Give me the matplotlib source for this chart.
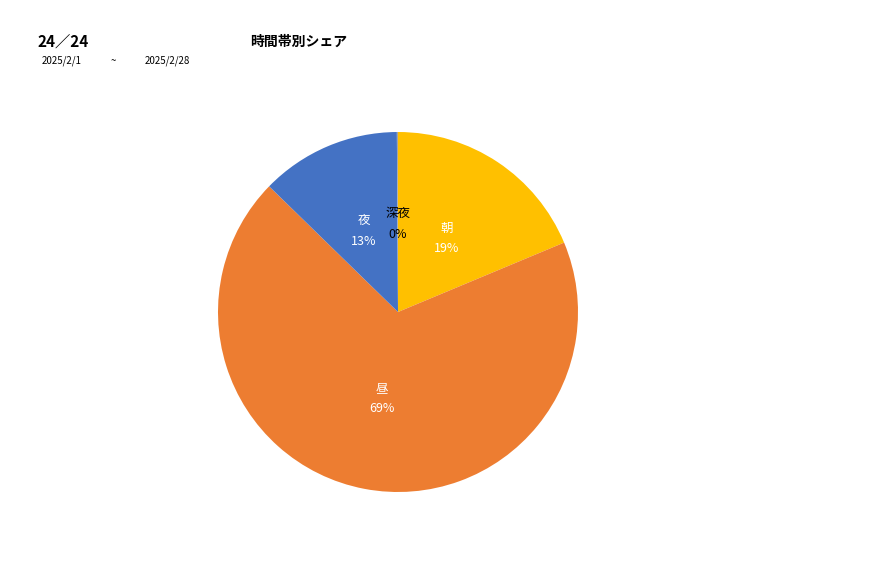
import matplotlib
matplotlib.use("Agg")
import matplotlib.pyplot as plt

plt.rcParams['font.family'] = ['Noto Sans CJK JP', 'DejaVu Sans']

# share by time slot (percent)
labels = ['朝', '昼', '夜', '深夜']
values = [18.7, 68.6, 12.6, 0.1]
colors = ['#FFC000', '#ED7D31', '#4472C4', '#A5A5A5']
label_colors = ['white', 'white', 'white', 'black']

title = '時間帯別シェア'
page = '24／24'
date_from = '2025/2/1'
date_to = '2025/2/28'

W, H = 877, 578
fig = plt.figure(figsize=(W / 100, H / 100), dpi=100)

total = sum(values)
texts = [f'{n}\n{int(v / total * 100 + 0.5)}%' for n, v in zip(labels, values)]

ax = fig.add_axes([218 / W, 86 / H, 360 / W, 360 / H])
wedges, txts = ax.pie(values, colors=colors, startangle=90, counterclock=False,
                      labels=texts, labeldistance=0.49,
                      wedgeprops=dict(linewidth=0),
                      textprops=dict(fontsize=9, ha='center', va='center',
                                     linespacing=1.75))
for t, c in zip(txts, label_colors):
    t.set_color(c)
ax.set_xlim(-1, 1)
ax.set_ylim(-1, 1)
ax.set_aspect('equal')

fig.text(37 / W, 1 - 42 / H, page, fontsize=11, fontweight='semibold', va='center')
fig.text(250 / W, 1 - 42 / H, title, fontsize=10, fontweight='semibold', va='center')
fig.text(42 / W, 1 - 61 / H, date_from, fontsize=7, va='center')
fig.text(111 / W, 1 - 61 / H, '~', fontsize=7, va='center')
fig.text(145 / W, 1 - 61 / H, date_to, fontsize=7, va='center')

fig.savefig('out.png', dpi=100)
